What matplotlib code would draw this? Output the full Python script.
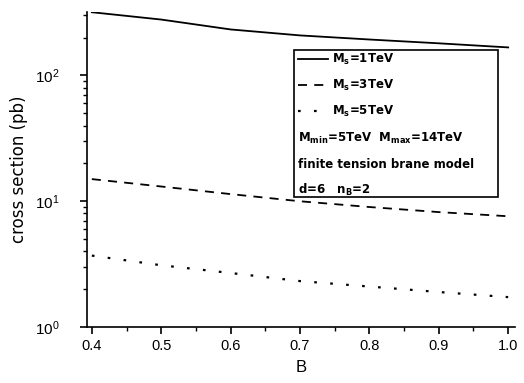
import matplotlib
matplotlib.use('Agg')
import matplotlib.pyplot as plt
from matplotlib.patches import Rectangle

plt.rcParams['font.family'] = ['Liberation Sans', 'DejaVu Sans']
plt.rcParams['mathtext.default'] = 'regular'

# B values and cross sections (pb)
B = [0.4, 0.5, 0.6, 0.7, 0.8, 0.9, 1.0]
sigma_1tev = [318, 278, 232, 208, 193, 180, 167]
sigma_3tev = [15.0, 13.1, 11.4, 10.0, 9.0, 8.2, 7.6]
sigma_5tev = [3.7, 3.1, 2.69, 2.32, 2.1, 1.9, 1.73]

labels = ['M$_s$=1TeV', 'M$_s$=3TeV', 'M$_s$=5TeV']
extra_text = ['M$_{min}$=5TeV  M$_{max}$=14TeV',
              'finite tension brane model',
              'd=6   n$_B$=2']

fig = plt.figure(figsize=(5.24, 3.83), dpi=100)
ax = fig.add_axes([0.166, 0.146, 0.817, 0.823])

l1, = ax.plot(B, sigma_1tev, color='black', lw=1.3, ls='-')
l2, = ax.plot(B, sigma_3tev, color='black', lw=1.3, ls=(0, (5, 4)))
l3, = ax.plot(B, sigma_5tev, color='black', lw=1.6, ls=(0, (1.2, 6)))

ax.set_yscale('log')
ax.set_ylim(1, 320)
ax.set_xlim(0.393, 1.01)
ax.set_xticks([0.4, 0.5, 0.6, 0.7, 0.8, 0.9, 1.0])
ax.set_xticks([0.45, 0.55, 0.65, 0.75, 0.85, 0.95], minor=True)
ax.set_xticklabels(['0.4', '0.5', '0.6', '0.7', '0.8', '0.9', '1.0'])

for s in ['top', 'right']:
    ax.spines[s].set_visible(False)
ax.spines['left'].set_linewidth(1.2)
ax.spines['bottom'].set_linewidth(1.2)
ax.tick_params(which='major', direction='out', length=5, width=1.2, labelsize=10.5)
ax.tick_params(which='minor', direction='out', length=3, width=1.0)
ax.tick_params(axis='y', which='major', pad=15, labelsize=11)

ax.set_xlabel('B', fontsize=12, labelpad=5)
ax.set_ylabel('cross section (pb)', fontsize=12, family='DejaVu Sans', labelpad=5)

# legend box drawn by hand
leg_font = dict(family='DejaVu Sans', size=8.5, weight='bold')
ax.add_patch(Rectangle((0.484, 0.413), 0.476, 0.466, transform=ax.transAxes,
                       fill=False, edgecolor='black', lw=1.2, zorder=5))
leg = ax.legend([l1, l2, l3], labels, loc='upper left',
                bbox_to_anchor=(0.484, 0.885), frameon=False, prop=leg_font,
                handlelength=2.6, handletextpad=0.3, labelspacing=0.93,
                borderaxespad=0, borderpad=0.3)
for i, t in enumerate(extra_text):
    ax.text(0.492, 0.598 - i * 0.081, t, transform=ax.transAxes,
            fontdict=leg_font, va='center', ha='left')

fig.savefig('out.png', dpi=100)
